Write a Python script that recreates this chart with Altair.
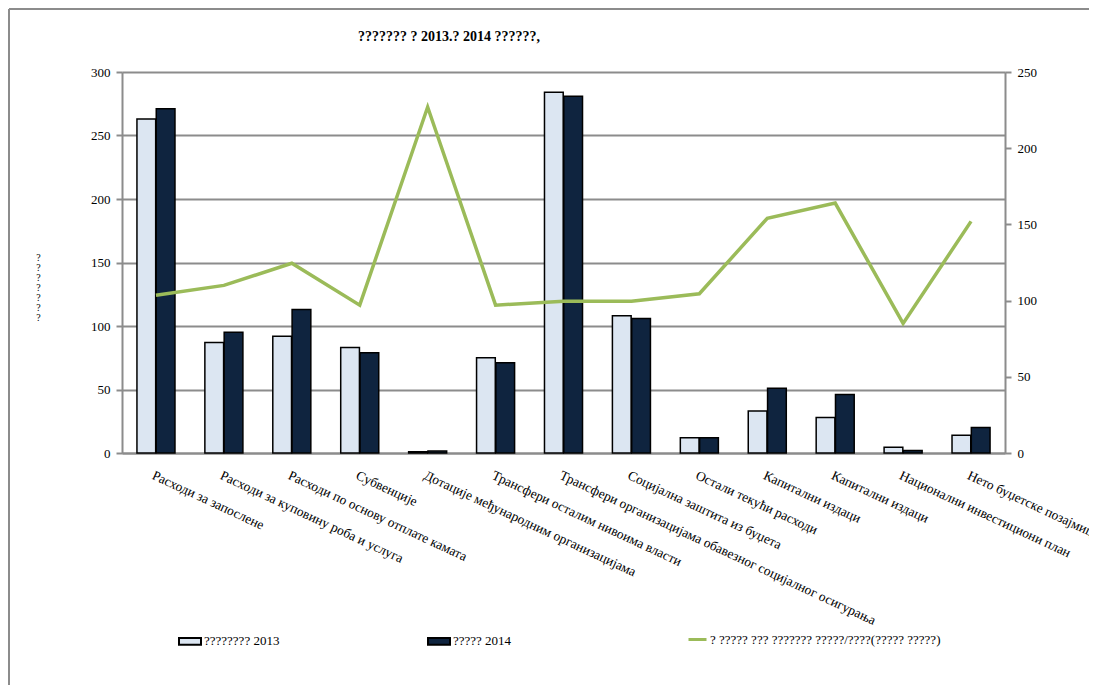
import altair as alt
import pandas as pd

categories = [
    "Расходи за запослене",
    "Расходи за куповину роба и услуга",
    "Расходи по основу отплате камата",
    "Субвенције",
    "Дотације међународним организацијама",
    "Трансфери осталим нивоима власти",
    "Трансфери организацијама обавезног социјалног осигурања",
    "Социјална заштита из буџета",
    "Остали текући расходи",
    "Капитални издаци",
    "Капитални издаци ",
    "Национални инвестициони план",
    "Нето буџетске позајмице",
]
series_2013 = "???????? 2013"
series_2014 = "????? 2014"
line_name = "? ????? ??? ??????? ?????/????(????? ?????)"
values_2013 = [263, 87, 92, 83, 1, 75, 284, 108, 12, 33, 28, 4.5, 14]
values_2014 = [271, 95, 113, 79, 1.5, 71, 281, 106, 12, 51, 46, 2, 20]
ratio = [103.5, 110, 124.5, 97, 227, 97, 99.5, 99.5, 104.5, 154, 164, 85, 152]
title_text = "??????? ? 2013.? 2014 ??????,"
y_title = ["?", "?", "?", "?", "?", "?", "?"]

bars_df = pd.DataFrame(
    [{"cat": c, "series": series_2013, "value": v} for c, v in zip(categories, values_2013)]
    + [{"cat": c, "series": series_2014, "value": v} for c, v in zip(categories, values_2014)]
)
line_df = pd.DataFrame({"cat": categories, "ratio": ratio, "series": [line_name] * len(categories)})

FONT = "Liberation Serif"
GRID = "#8c8c8c"

x_enc = alt.X(
    "cat:N",
    sort=categories,
    scale=alt.Scale(paddingInner=0.44, paddingOuter=0.22),
    axis=alt.Axis(
        title=None, labelAngle=25, labelAlign="left", labelBaseline="top",
        labelPadding=15, labelLimit=1000, labelFont=FONT, labelFontSize=13.5,
        labelColor="black", ticks=False, domainColor=GRID, domainWidth=2,
    ),
)

bars = alt.Chart(bars_df).mark_bar(stroke="black", strokeWidth=1.5).encode(
    x=x_enc,
    xOffset=alt.XOffset("series:N", sort=[series_2013, series_2014], scale=alt.Scale(paddingInner=0.03)),
    y=alt.Y(
        "value:Q",
        scale=alt.Scale(domain=[0, 300]),
        axis=alt.Axis(
            values=[0, 50, 100, 150, 200, 250, 300], title=y_title, titleAngle=0,
            titleFont=FONT, titleFontSize=10, titleFontWeight="normal", titleLineHeight=10,
            titleColor="black",
            titleX=-84, titleY=180, titleBaseline="top", titleAlign="center",
            labelFont=FONT, labelFontSize=13, labelColor="black", labelPadding=6,
            grid=True, gridColor=GRID, gridWidth=2, domainColor=GRID, domainWidth=2,
            tickColor=GRID, tickWidth=2, tickSize=6,
        ),
    ),
    fill=alt.Fill(
        "series:N",
        sort=[series_2013, series_2014],
        scale=alt.Scale(domain=[series_2013, series_2014], range=["#dce6f2", "#0f243f"]),
        legend=alt.Legend(
            title=None, orient="none", legendX=56, legendY=557, direction="horizontal",
            symbolType="M-1,-0.3H1V0.3H-1Z", symbolSize=484, symbolStrokeColor="black",
            symbolStrokeWidth=2, labelFont=FONT, labelFontSize=13, labelColor="black",
            columnPadding=144, labelOffset=2,
        ),
    ),
)

line = alt.Chart(line_df).mark_line(strokeWidth=3.5).encode(
    x=x_enc,
    y=alt.Y(
        "ratio:Q",
        scale=alt.Scale(domain=[0, 250]),
        axis=alt.Axis(
            orient="right", values=[0, 50, 100, 150, 200, 250], title=None,
            labelFont=FONT, labelFontSize=13, labelColor="black", labelPadding=6,
            grid=False, domainColor=GRID, domainWidth=2, tickColor=GRID, tickWidth=2, tickSize=6,
        ),
    ),
    stroke=alt.Stroke(
        "series:N",
        scale=alt.Scale(range=["#9bbb59"]),
        legend=alt.Legend(
            title=None, orient="none", legendX=565, legendY=557, symbolType="stroke",
            symbolSize=324, symbolStrokeWidth=3, labelFont=FONT, labelFontSize=13,
            labelColor="black", labelOffset=2, labelLimit=1000,
        ),
    ),
)

frame_data = alt.Data(values=[{"a": 1}])
left_border = alt.Chart(frame_data).mark_rule(color=GRID, strokeWidth=2).encode(
    x=alt.value(-113), y=alt.value(-63), y2=alt.value(700)
)
top_border = alt.Chart(frame_data).mark_rule(color=GRID, strokeWidth=2).encode(
    x=alt.value(-113), x2=alt.value(1000), y=alt.value(-63)
)

chart = (
    alt.layer(bars, line, left_border, top_border)
    .resolve_scale(y="independent", fill="independent", stroke="independent")
    .properties(
        width=883, height=381,
        title=alt.TitleParams(
            title_text, anchor="start", frame="group", dx=236, dy=43, offset=0, font=FONT,
            fontSize=14, fontWeight="bold", color="black", baseline="middle",
        ),
        autosize=alt.AutoSizeParams(type="none"),
        padding={"left": 114, "top": 64, "right": 84, "bottom": 232},
    )
    .configure_view(stroke=None)
    .configure(background="white")
)

chart.save("out.html", embed_options={"renderer": "svg", "actions": False})
